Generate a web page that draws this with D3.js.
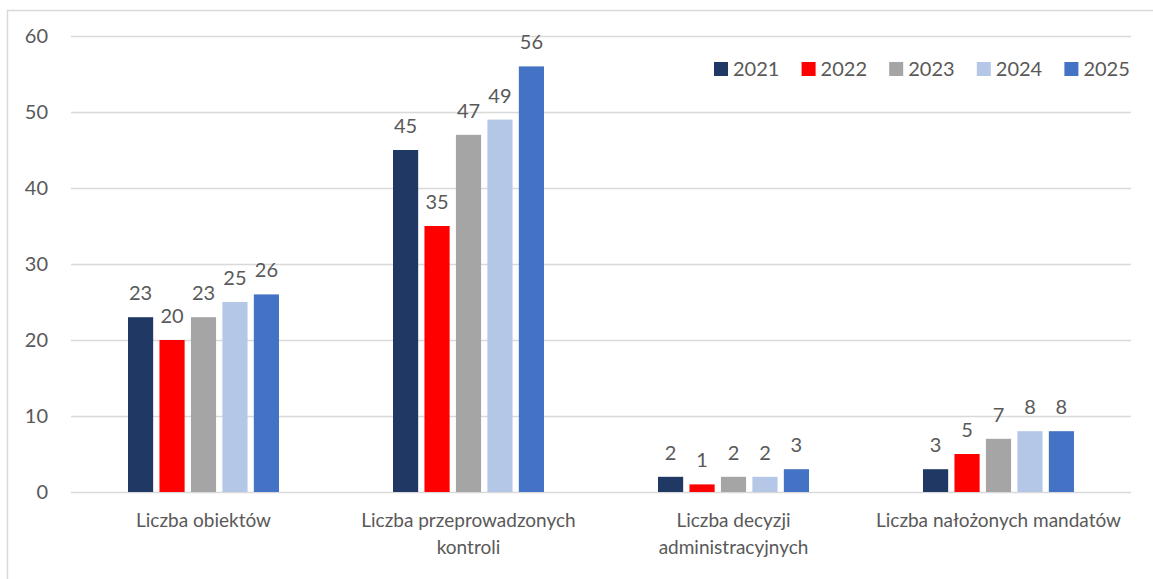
<!DOCTYPE html>
<html><head><meta charset="utf-8">
<script src="https://cdn.jsdelivr.net/npm/d3@7"></script>
<style>body{margin:0;background:#fff}svg{display:block}</style>
</head><body>
<svg id="c" width="1153" height="579"></svg>
<script>
const categories = [["Liczba obiektów"], ["Liczba przeprowadzonych", "kontroli"], ["Liczba decyzji", "administracyjnych"], ["Liczba nałożonych mandatów"]];
const years = ["2021", "2022", "2023", "2024", "2025"];
const s2021 = [23, 45, 2, 3];
const s2022 = [20, 35, 1, 5];
const s2023 = [23, 47, 2, 7];
const s2024 = [25, 49, 2, 8];
const s2025 = [26, 56, 3, 8];
const seriesValues = [s2021, s2022, s2023, s2024, s2025];
const colors = ["#203864", "#ff0000", "#a5a5a5", "#b4c7e7", "#4472c4"];
const yTicks = [0, 10, 20, 30, 40, 50, 60];

(function () {
const svg = d3.select("#c");
const font = "Lato, 'Open Sans', sans-serif";
const txt = "#595959";

// outer frame
svg.append("path").attr("d", "M7.5,579 V10.5 H1153").attr("fill", "none").attr("stroke", "#d9d9d9").attr("stroke-width", 1.5);

const pL = 71, pR = 1131, pT = 36, pB = 492;
const x0 = d3.scaleBand().domain(d3.range(categories.length)).range([pL, pR]);
const x1 = d3.scaleBand().domain(years).range([0, 151]).paddingInner(0.2).paddingOuter(0);
const y = d3.scaleLinear().domain([0, 60]).range([pB, pT]);

// gridlines
svg.append("g").selectAll("line").data(yTicks).join("line")
  .attr("x1", pL).attr("x2", pR)
  .attr("y1", d => Math.round(y(d)) + 0.5).attr("y2", d => Math.round(y(d)) + 0.5)
  .attr("stroke", "#d9d9d9").attr("stroke-width", 1.5);

// y tick labels
svg.append("g").selectAll("text").data(yTicks).join("text")
  .attr("x", 48).attr("y", d => y(d)).attr("dy", "0.35em")
  .attr("text-anchor", "end").attr("font-family", font).attr("font-size", 20).attr("fill", txt)
  .text(d => d);

// bars
const groups = svg.append("g").selectAll("g").data(categories).join("g")
  .attr("transform", (d, i) => `translate(${x0(i) + x0.bandwidth() / 2 - 75.5},0)`);
years.forEach((yr, si) => {
  groups.append("rect")
    .attr("x", x1(yr)).attr("width", x1.bandwidth())
    .attr("y", (d, i) => y(seriesValues[si][i]))
    .attr("height", (d, i) => pB - y(seriesValues[si][i]))
    .attr("fill", colors[si]);
  groups.append("text")
    .attr("x", x1(yr) + x1.bandwidth() / 2)
    .attr("y", (d, i) => y(seriesValues[si][i]) - 17)
    .attr("text-anchor", "middle").attr("font-family", font).attr("font-size", 20).attr("fill", txt)
    .text((d, i) => seriesValues[si][i]);
});

// category labels
const cl = svg.append("g").selectAll("text").data(categories).join("text")
  .attr("x", (d, i) => x0(i) + x0.bandwidth() / 2)
  .attr("y", 527)
  .attr("text-anchor", "middle").attr("font-family", font).attr("font-size", 19).attr("fill", txt);
cl.selectAll("tspan").data(d => d).join("tspan")
  .attr("x", function () { return d3.select(this.parentNode).attr("x"); })
  .attr("dy", (d, i) => i === 0 ? 0 : 27)
  .text(d => d);

// legend
const lg = svg.append("g").selectAll("g").data(years).join("g")
  .attr("transform", (d, i) => `translate(${714 + i * 87.6},62)`);
lg.append("rect").attr("width", 14).attr("height", 14).attr("fill", (d, i) => colors[i]);
lg.append("text").attr("x", 19).attr("y", 7).attr("dy", "0.35em")
  .attr("font-family", font).attr("font-size", 20).attr("fill", txt).text(d => d);
})();
</script>
</body></html>
